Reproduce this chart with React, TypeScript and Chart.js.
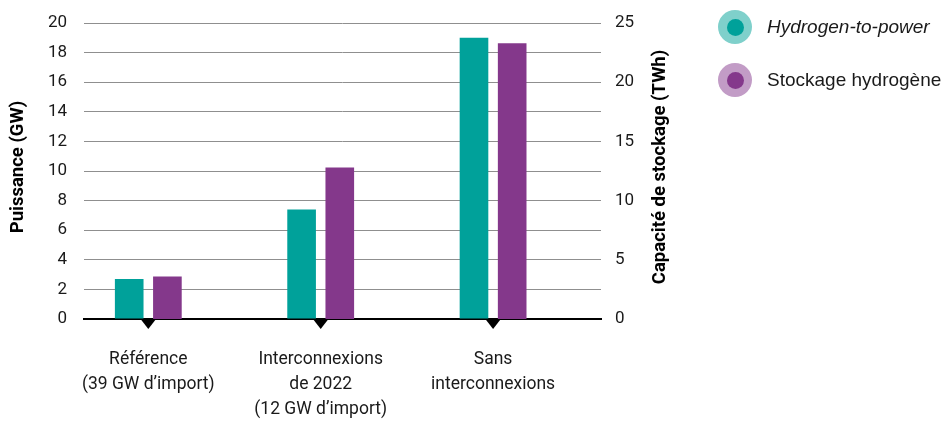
import React, { useEffect, useRef } from 'react';
import { Chart, registerables } from 'chart.js';

Chart.register(...registerables);

// ---- data ----
const categories: string[][] = [
  ['Référence', '(39 GW d’import)'],
  ['Interconnexions', 'de 2022', '(12 GW d’import)'],
  ['Sans', 'interconnexions'],
];
const hydrogenToPowerGW: number[] = [2.7, 7.4, 19.0];
const stockageTWh: number[] = [3.6, 12.8, 23.3];
const seriesNames: string[] = ['Hydrogen-to-power', 'Stockage hydrogène'];
const leftTitle = 'Puissance (GW)';
const rightTitle = 'Capacité de stockage (TWh)';
const leftMax = 20;
const leftStep = 2;
const rightMax = 25;
const rightStep = 5;

// ---- style ----
const FONT = "Roboto, 'Liberation Sans', sans-serif";
const TEAL = '#00A19A';
const TEAL_LIGHT = '#7FD0CB';
const PURPLE = '#84388B';
const PURPLE_LIGHT = '#C29CC6';
const TEXT = '#1a1a1a';

const decorations = {
  id: 'decorations',
  afterDraw(chart: any) {
    const { ctx, chartArea, scales } = chart;
    const x = scales.x;
    ctx.save();
    ctx.fillStyle = '#000';
    categories.forEach((_, i) => {
      const px = x.getPixelForValue(i);
      const y0 = chartArea.bottom + 1;
      ctx.beginPath();
      ctx.moveTo(px - 7, y0);
      ctx.lineTo(px + 7, y0);
      ctx.lineTo(px, y0 + 9);
      ctx.closePath();
      ctx.fill();
    });
    const cy = (chartArea.top + chartArea.bottom) / 2;
    ctx.font = `bold 18.5px ${FONT}`;
    ctx.fillStyle = '#000';
    ctx.textAlign = 'center';
    ctx.textBaseline = 'middle';
    ctx.save();
    ctx.translate(18, cy - 4);
    ctx.rotate(-Math.PI / 2);
    ctx.fillText(leftTitle, 0, 0);
    ctx.restore();
    ctx.save();
    ctx.translate(660, cy - 4);
    ctx.rotate(-Math.PI / 2);
    ctx.fillText(rightTitle, 0, 0);
    ctx.restore();
    ctx.restore();
  },
};

export default function App() {
  const ref = useRef<HTMLCanvasElement | null>(null);

  useEffect(() => {
    if (!ref.current) return;
    const chart = new Chart(ref.current, {
      type: 'bar',
      data: {
        datasets: [
          {
            label: seriesNames[0],
            data: hydrogenToPowerGW.map((v, i) => ({ x: i, y: v })),
            backgroundColor: TEAL,
            yAxisID: 'y',
            categoryPercentage: 0.443,
            barPercentage: 0.75,
          },
          {
            label: seriesNames[1],
            data: stockageTWh.map((v, i) => ({ x: i, y: v })),
            backgroundColor: PURPLE,
            yAxisID: 'y2',
            categoryPercentage: 0.443,
            barPercentage: 0.75,
          },
        ],
      },
      options: {
        animation: false,
        responsive: true,
        maintainAspectRatio: false,
        layout: { padding: { left: 0, right: 271, top: 23, bottom: 0 } },
        plugins: { legend: { display: false }, tooltip: { enabled: false } },
        scales: {
          x: {
            type: 'linear',
            offset: false,
            min: -0.373,
            max: 2.626,
            grid: { display: false, drawTicks: false },
            border: { display: true, color: '#000', width: 2 },
            afterBuildTicks: (scale: any) => {
              scale.ticks = categories.map((_, i) => ({ value: i }));
            },
            afterFit: (scale: any) => {
              scale.height = 102;
              scale.paddingLeft = 0;
              scale.paddingRight = 0;
            },
            ticks: {
              autoSkip: false,
              maxRotation: 0,
              padding: 28,
              color: TEXT,
              font: { family: FONT, size: 17.5, lineHeight: 1.42 },
              callback: (v: any) => categories[v as number] ?? '',
            },
          },
          y: {
            position: 'left',
            min: 0,
            max: leftMax,
            afterFit: (scale: any) => {
              scale.width = 84;
              scale.paddingTop = 0;
              scale.paddingBottom = 0;
            },
            grid: {
              drawTicks: false,
              color: (c: any) => (c.tick && c.tick.value === 0 ? 'rgba(0,0,0,0)' : '#8f8f8f'),
              lineWidth: 1,
            },
            border: { display: false },
            ticks: {
              stepSize: leftStep,
              padding: 17,
              color: TEXT,
              font: { family: FONT, size: 17 },
            },
          },
          y2: {
            position: 'right',
            min: 0,
            max: rightMax,
            afterFit: (scale: any) => {
              scale.width = 70;
              scale.paddingTop = 0;
              scale.paddingBottom = 0;
            },
            grid: { display: false, drawTicks: false },
            border: { display: false },
            ticks: {
              stepSize: rightStep,
              padding: 14,
              color: TEXT,
              font: { family: FONT, size: 17 },
            },
          },
        },
      },
      plugins: [decorations],
    } as any);
    return () => chart.destroy();
  }, []);

  const legendItem = (name: string, outer: string, inner: string, italic: boolean, top: number) => (
    <div
      style={{
        position: 'absolute',
        left: 718,
        top,
        display: 'flex',
        alignItems: 'center',
        whiteSpace: 'nowrap',
      }}
    >
      <div
        style={{
          width: 34,
          height: 34,
          borderRadius: '50%',
          background: outer,
          display: 'flex',
          alignItems: 'center',
          justifyContent: 'center',
        }}
      >
        <div style={{ width: 17, height: 17, borderRadius: '50%', background: inner }} />
      </div>
      <span
        style={{
          marginLeft: 15,
          fontFamily: "'Liberation Sans', Arial, sans-serif",
          fontSize: 19,
          fontStyle: italic ? 'italic' : 'normal',
          color: TEXT,
        }}
      >
        {name}
      </span>
    </div>
  );

  return (
    <div style={{ position: 'fixed', left: 0, top: 0, width: 942, height: 421, background: '#fff' }}>
      <canvas ref={ref} />
      {legendItem(seriesNames[0], TEAL_LIGHT, TEAL, true, 10)}
      {legendItem(seriesNames[1], PURPLE_LIGHT, PURPLE, false, 63)}
    </div>
  );
}
